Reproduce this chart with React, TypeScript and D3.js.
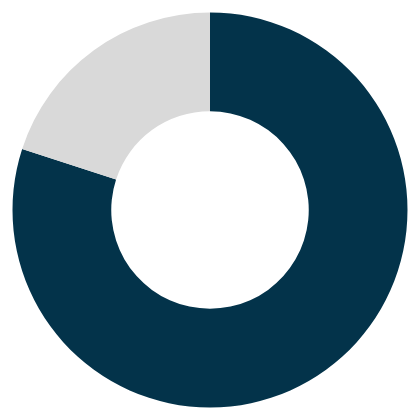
import { useEffect, useRef } from "react";
import * as d3 from "d3";

const labels = ["Done", "Remaining"];
const values = [80, 20];
const colors = ["#03334a", "#d9d9d9"];

const width = 420;
const height = 420;

export default function App() {
  const ref = useRef<SVGSVGElement | null>(null);

  useEffect(() => {
    if (!ref.current) return;
    const svg = d3.select(ref.current);
    svg.selectAll("*").remove();

    const outer = 197.5;
    const inner = outer * 0.5;

    const pie = d3
      .pie<number>()
      .sort(null)
      .value((d) => d);

    const arc = d3
      .arc<d3.PieArcDatum<number>>()
      .innerRadius(inner)
      .outerRadius(outer);

    const color = d3.scaleOrdinal<string, string>().domain(labels).range(colors);

    const g = svg
      .append("g")
      .attr("transform", `translate(${width / 2},${height / 2})`);

    g.selectAll("path")
      .data(pie(values))
      .join("path")
      .attr("d", arc)
      .attr("fill", (_, i) => color(labels[i]));
  }, []);

  return (
    <svg
      ref={ref}
      width={width}
      height={height}
      style={{ position: "fixed", left: 0, top: 0, display: "block", background: "#fff" }}
    />
  );
}
